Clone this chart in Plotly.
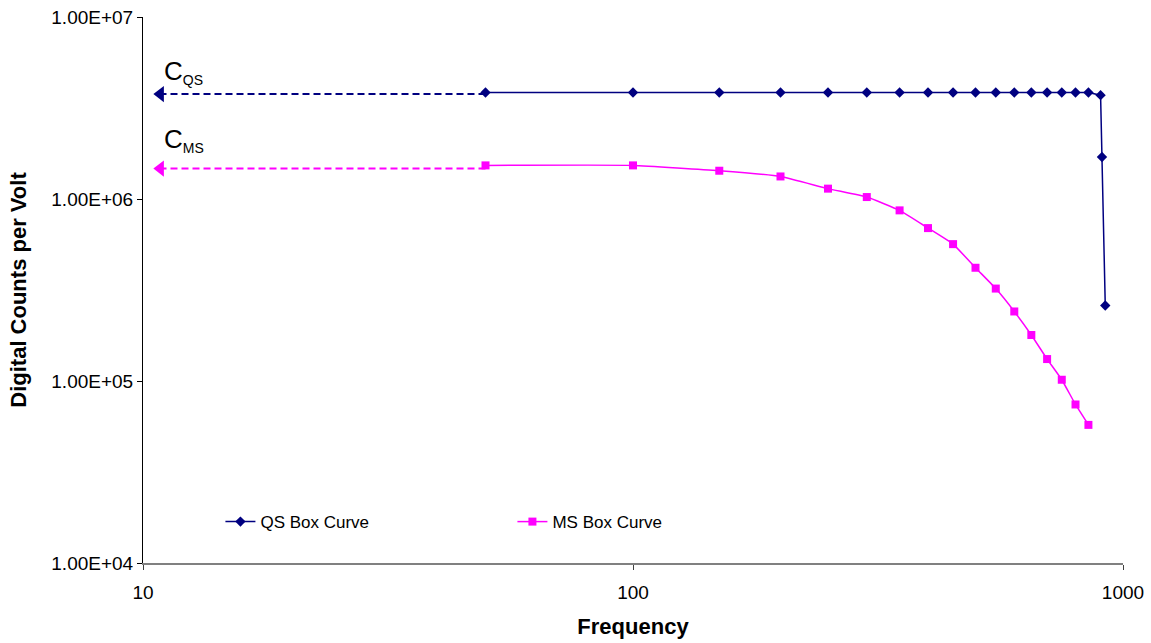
import plotly.graph_objects as go

# Data
qs_freq = [50, 100, 150, 200, 250, 300, 350, 400, 450, 500, 550, 600, 650, 700, 750, 800, 850, 900, 906, 920]
qs_counts = [3.85e6, 3.85e6, 3.85e6, 3.85e6, 3.85e6, 3.85e6, 3.85e6, 3.85e6, 3.85e6, 3.85e6,
             3.85e6, 3.85e6, 3.85e6, 3.85e6, 3.85e6, 3.85e6, 3.85e6, 3.72e6, 1.70e6, 2.60e5]

ms_freq = [50, 100, 150, 200, 250, 300, 350, 400, 450, 500, 550, 600, 650, 700, 750, 800, 850]
ms_counts = [1.53e6, 1.53e6, 1.43e6, 1.33e6, 1.14e6, 1.025e6, 8.66e5, 6.92e5, 5.65e5, 4.19e5,
             3.22e5, 2.41e5, 1.79e5, 1.32e5, 1.016e5, 7.43e4, 5.74e4]

# Extrapolation arrows (C_QS, C_MS)
cqs_x = [50, 10.85]
cqs_y = [3.77e6, 3.77e6]
cms_x = [50, 10.85]
cms_y = [1.47e6, 1.47e6]

y_tickvals = [1e4, 1e5, 1e6, 1e7]
y_ticktext = ["1.00E+04", "1.00E+05", "1.00E+06", "1.00E+07"]
x_tickvals = [10, 100, 1000]
x_ticktext = ["10", "100", "1000"]

NAVY = "#000080"
MAGENTA = "#FF00FF"
FONT = "Liberation Sans, Arial, sans-serif"

fig = go.Figure()

fig.add_trace(go.Scatter(x=cqs_x, y=cqs_y, mode="lines", showlegend=False,
                         line=dict(color=NAVY, width=2, dash="7px,4px"), hoverinfo="skip"))
fig.add_trace(go.Scatter(x=cqs_x[1:], y=cqs_y[1:], mode="markers", showlegend=False,
                         marker=dict(symbol="triangle-left", size=14, color=NAVY), hoverinfo="skip"))
fig.add_trace(go.Scatter(x=cms_x, y=cms_y, mode="lines", showlegend=False,
                         line=dict(color=MAGENTA, width=2, dash="7px,4px"), hoverinfo="skip"))
fig.add_trace(go.Scatter(x=cms_x[1:], y=cms_y[1:], mode="markers", showlegend=False,
                         marker=dict(symbol="triangle-left", size=14, color=MAGENTA), hoverinfo="skip"))

fig.add_trace(go.Scatter(x=qs_freq, y=qs_counts, mode="lines+markers", name="QS Box Curve",
                         line=dict(color=NAVY, width=1.5),
                         marker=dict(symbol="diamond", size=8, color=NAVY, line=dict(width=0))))
fig.add_trace(go.Scatter(x=ms_freq, y=ms_counts, mode="lines+markers", name="MS Box Curve",
                         line=dict(color=MAGENTA, width=1.5, shape="spline", smoothing=0.4),
                         marker=dict(symbol="square", size=8, color=MAGENTA, line=dict(width=0))))

fig.add_annotation(text='C<sub><span style="font-size:14px">QS</span></sub>',
                   xref="paper", yref="paper", x=0.0195, y=0.9,
                   xanchor="left", yanchor="middle", showarrow=False,
                   font=dict(family=FONT, size=26, color="black"))
fig.add_annotation(text='C<sub><span style="font-size:14px">MS</span></sub>',
                   xref="paper", yref="paper", x=0.0195, y=0.774,
                   xanchor="left", yanchor="middle", showarrow=False,
                   font=dict(family=FONT, size=26, color="black"))

fig.update_layout(
    width=1151, height=643,
    margin=dict(l=143, r=28, t=17, b=80),
    paper_bgcolor="white", plot_bgcolor="white",
    font=dict(family=FONT, size=19, color="black"),
    showlegend=True,
    legend=dict(orientation="h", x=0.079, y=0.075, xanchor="left", yanchor="middle",
                bgcolor="rgba(0,0,0,0)", font=dict(family=FONT, size=17, color="black"),
                entrywidth=247, entrywidthmode="pixels"),
    xaxis=dict(type="log", range=[1, 3], tickvals=x_tickvals, ticktext=x_ticktext,
               tickfont=dict(family=FONT, size=19, color="black"), automargin=False,
               showgrid=False, zeroline=False, showline=True, linecolor="#808080", linewidth=2,
               ticks="outside", ticklen=5, tickcolor="#404040", ticklabelstandoff=6,
               title=dict(text="<b>Frequency</b>", font=dict(family=FONT, size=22), standoff=17)),
    yaxis=dict(type="log", range=[4, 7], tickvals=y_tickvals, ticktext=y_ticktext,
               tickfont=dict(family=FONT, size=19, color="black"), automargin=False,
               showgrid=False, zeroline=False, showline=True, linecolor="black", linewidth=1,
               ticks="outside", ticklen=5, tickcolor="black",
               title=dict(text="<b>Digital Counts per Volt</b>", font=dict(family=FONT, size=22), standoff=18)),
)

fig.write_html("out.html")
